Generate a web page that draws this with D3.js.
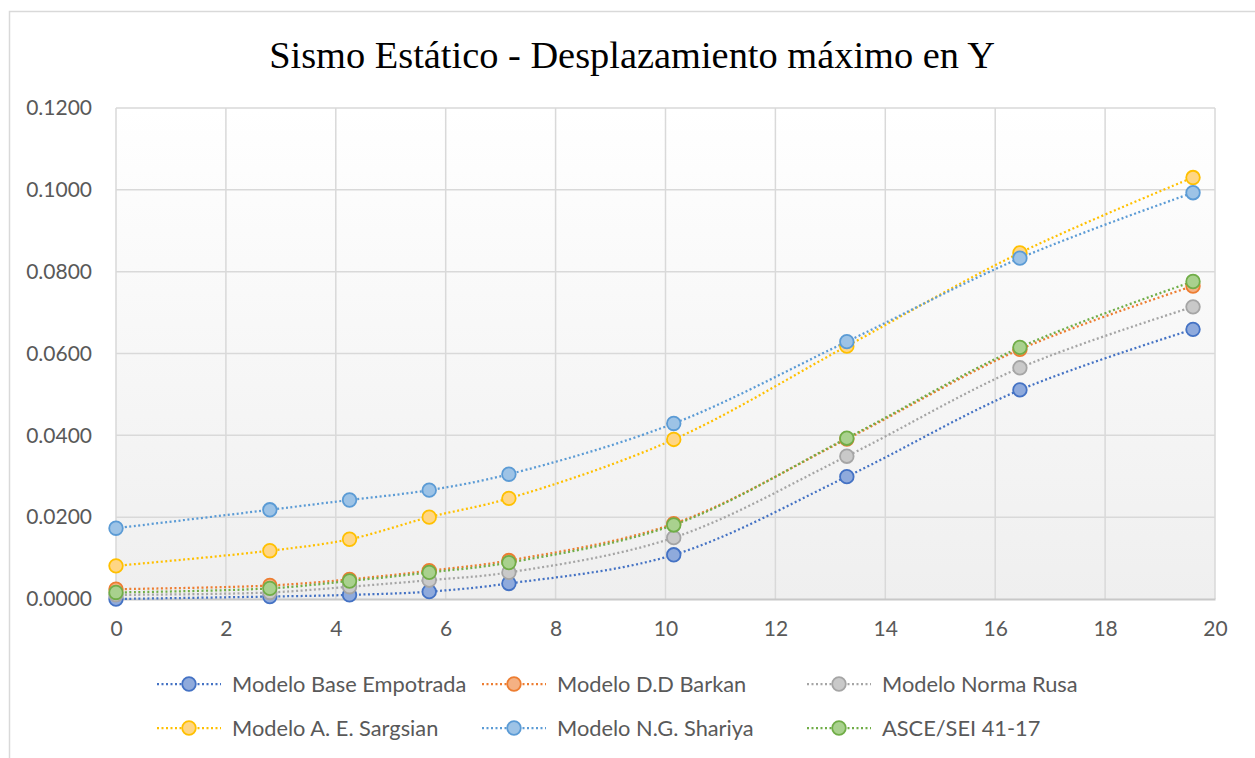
<!DOCTYPE html>
<html>
<head>
<meta charset="utf-8">
<script src="https://cdn.jsdelivr.net/npm/d3@7"></script>
<style>
  html, body { margin: 0; padding: 0; background: #ffffff; }
  svg { display: block; }
</style>
</head>
<body>
<svg id="chart" width="1255" height="758"></svg>
<script>
// Heights of the storeys (m) and maximum Y displacement (m) for each model
const heights = [0, 2.8, 4.25, 5.7, 7.15, 10.15, 13.3, 16.45, 19.6];

const baseEmpotrada = [0.0000, 0.0006, 0.0010, 0.0018, 0.0038, 0.0108, 0.0299, 0.0511, 0.0659];
const ddBarkan      = [0.0024, 0.0033, 0.0048, 0.0069, 0.0094, 0.0184, 0.0391, 0.0610, 0.0765];
const normaRusa     = [0.0010, 0.0016, 0.0030, 0.0046, 0.0065, 0.0150, 0.0349, 0.0565, 0.0714];
const aeSargsian    = [0.0081, 0.0118, 0.0146, 0.0200, 0.0246, 0.0390, 0.0618, 0.0846, 0.1030];
const ngShariya     = [0.0173, 0.0218, 0.0242, 0.0266, 0.0305, 0.0429, 0.0629, 0.0833, 0.0993];
const asce4117      = [0.0016, 0.0026, 0.0044, 0.0065, 0.0089, 0.0181, 0.0393, 0.0615, 0.0776];

const seriesNames = [
  "Modelo Base Empotrada", "Modelo D.D Barkan", "Modelo Norma Rusa",
  "Modelo A. E. Sargsian", "Modelo N.G. Shariya", "ASCE/SEI 41-17"
];
const seriesValues = [baseEmpotrada, ddBarkan, normaRusa, aeSargsian, ngShariya, asce4117];

const xTicks = [0, 2, 4, 6, 8, 10, 12, 14, 16, 18, 20];
const yTicks = [0, 0.02, 0.04, 0.06, 0.08, 0.10, 0.12];

const titleText = "Sismo Estático - Desplazamiento máximo en Y";

// Office-style palette: outline colour and lighter marker fill
const strokeColors = ["#4472C4", "#ED7D31", "#A5A5A5", "#FFC000", "#5B9BD5", "#70AD47"];
const fillColors   = ["#8FAADC", "#F4B183", "#C9C9C9", "#FFD685", "#9DC3E6", "#A9D18E"];

const svg = d3.select("#chart");
const W = 1255, H = 758;
const plot = { left: 116, right: 1215, top: 108, bottom: 599 };

// Outer chart frame
svg.append("rect")
  .attr("x", 9.5).attr("y", 11.5)
  .attr("width", W + 20).attr("height", H + 20)
  .attr("fill", "#ffffff").attr("stroke", "#d9d9d9").attr("stroke-width", 1.5);

// Title
svg.append("text")
  .attr("x", 632).attr("y", 68)
  .attr("text-anchor", "middle")
  .attr("font-family", "'Liberation Serif', 'Times New Roman', serif")
  .attr("font-size", 38.4)
  .attr("fill", "#000000")
  .text(titleText);

const x = d3.scaleLinear().domain([0, 20]).range([plot.left, plot.right]);
const y = d3.scaleLinear().domain([0, 0.12]).range([plot.bottom, plot.top]);

// Plot area background: soft vertical gradient
const defs = svg.append("defs");
const grad = defs.append("linearGradient")
  .attr("id", "plotBg").attr("x1", 0).attr("y1", 0).attr("x2", 0).attr("y2", 1);
grad.append("stop").attr("offset", "0%").attr("stop-color", "#ffffff");
grad.append("stop").attr("offset", "100%").attr("stop-color", "#efefef");

svg.append("rect")
  .attr("x", plot.left).attr("y", plot.top)
  .attr("width", plot.right - plot.left).attr("height", plot.bottom - plot.top)
  .attr("fill", "url(#plotBg)");

// Gridlines
const grid = svg.append("g").attr("stroke", "#d9d9d9").attr("stroke-width", 1.5);
grid.selectAll("line.v").data(xTicks).join("line")
  .attr("x1", d => x(d)).attr("x2", d => x(d))
  .attr("y1", plot.top).attr("y2", plot.bottom);
grid.selectAll("line.h").data(yTicks.filter(d => d > 0)).join("line")
  .attr("x1", plot.left).attr("x2", plot.right)
  .attr("y1", d => y(d)).attr("y2", d => y(d));

// Axes
const tickFont = "Lato, 'Open Sans', sans-serif";
const xAxis = svg.append("g")
  .attr("transform", `translate(0,${plot.bottom})`)
  .call(d3.axisBottom(x).tickValues(xTicks).tickSize(0).tickPadding(22).tickFormat(d3.format("d")));
xAxis.select(".domain").attr("stroke", "#c8c8c8").attr("stroke-width", 2);
xAxis.selectAll("text").attr("font-family", tickFont).attr("font-size", 21).attr("fill", "#595959");

const yAxis = svg.append("g")
  .attr("transform", `translate(${plot.left},0)`)
  .call(d3.axisLeft(y).tickValues(yTicks).tickSize(0).tickPadding(24).tickFormat(d3.format(".4f")));
yAxis.select(".domain").remove();
yAxis.selectAll("text").attr("font-family", tickFont).attr("font-size", 21).attr("fill", "#595959");

// Smoothed dotted lines and markers
const line = d3.line()
  .x((d, i) => x(heights[i]))
  .y(d => y(d))
  .curve(d3.curveCatmullRom.alpha(0.5));

const markerR = 6.8;
const seriesG = svg.append("g");
seriesValues.forEach((vals, s) => {
  seriesG.append("path")
    .datum(vals)
    .attr("d", line)
    .attr("fill", "none")
    .attr("stroke", strokeColors[s])
    .attr("stroke-width", 2.25)
    .attr("stroke-dasharray", "2 2.5");
});
seriesValues.forEach((vals, s) => {
  seriesG.append("g").selectAll("circle").data(vals).join("circle")
    .attr("cx", (d, i) => x(heights[i]))
    .attr("cy", d => y(d))
    .attr("r", markerR)
    .attr("fill", fillColors[s])
    .attr("stroke", strokeColors[s])
    .attr("stroke-width", 1.8);
});

// Legend (two rows of three)
const legendCols = [157, 482, 807];
const legendRows = [684, 728];
const legend = svg.append("g");
seriesNames.forEach((name, s) => {
  const cx = legendCols[s % 3];
  const cy = legendRows[Math.floor(s / 3)];
  const g = legend.append("g").attr("transform", `translate(${cx},${cy})`);
  g.append("line")
    .attr("x1", 0).attr("x2", 64).attr("y1", 0).attr("y2", 0)
    .attr("stroke", strokeColors[s]).attr("stroke-width", 2.25)
    .attr("stroke-dasharray", "2 2.5");
  g.append("circle")
    .attr("cx", 32).attr("cy", 0).attr("r", markerR)
    .attr("fill", fillColors[s]).attr("stroke", strokeColors[s]).attr("stroke-width", 1.8);
  g.append("text")
    .attr("x", 75).attr("y", 0).attr("dy", "0.35em")
    .attr("font-family", tickFont).attr("font-size", 21.8).attr("fill", "#595959")
    .text(name);
});
</script>
</body>
</html>
